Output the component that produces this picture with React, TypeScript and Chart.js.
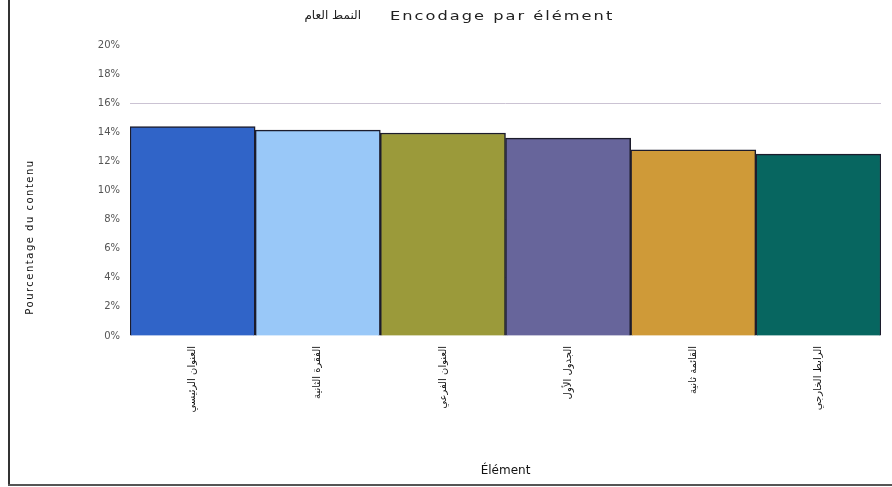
import React, { useEffect, useRef } from "react";
import { Chart, registerables } from "chart.js";

Chart.register(...registerables);

const categories = [
  "العنوان الرئيسي",
  "الفقرة الثانية",
  "العنوان الفرعي",
  "الجدول الأول",
  "القائمة ثانية",
  "الرابط الخارجي",
];
const values = [14.4, 14.15, 13.95, 13.6, 12.8, 12.5];
const barColors = ["#3064c8", "#99c8f8", "#9b9a3a", "#67659b", "#cf9a38", "#076660"];
const titleArabic = "النمط العام";
const titleText = "Encodage par élément";
const yTitle = "Pourcentage du contenu";
const xTitle = "Élément";

const textPlugin = {
  id: "customTexts",
  afterDraw(chart: any) {
    const ctx = chart.ctx as CanvasRenderingContext2D;
    ctx.save();
    ctx.fillStyle = "#222";
    ctx.textBaseline = "middle";
    // title
    ctx.save();
    ctx.translate(390, 17);
    ctx.scale(1.35, 1);
    ctx.font = "12px 'DejaVu Sans'";
    (ctx as any).letterSpacing = "1.5px";
    ctx.textAlign = "left";
    ctx.fillText(titleText, 0, 0);
    ctx.restore();
    ctx.font = "12px 'DejaVu Sans'";
    ctx.textAlign = "right";
    ctx.fillText(titleArabic, 361, 16);
    // y title
    ctx.translate(30, 237);
    ctx.rotate(-Math.PI / 2);
    ctx.textAlign = "center";
    ctx.font = "10px 'DejaVu Sans'";
    (ctx as any).letterSpacing = "1.5px";
    ctx.fillStyle = "#111";
    ctx.fillText(yTitle, 0, 0);
    ctx.restore();
  },
};

export default function App() {
  const ref = useRef<HTMLCanvasElement | null>(null);
  useEffect(() => {
    if (!ref.current) return;
    const chart = new Chart(ref.current, {
      type: "bar",
      data: {
        labels: categories,
        datasets: [
          {
            data: values,
            backgroundColor: barColors,
            borderColor: "#1c1c2c",
            borderWidth: 1.5,
            categoryPercentage: 1,
            barPercentage: 1,
          },
        ],
      },
      plugins: [textPlugin],
      options: {
        responsive: false,
        animation: false,
        layout: { padding: { left: 12, right: 11, top: 45, bottom: 3 } },
        plugins: {
          legend: { display: false },
          tooltip: { enabled: false },
          title: { display: false },
        },
        scales: {
          x: {
            grid: { display: false },
            border: { display: false },
            ticks: {
              color: "#111",
              font: { family: "DejaVu Sans", size: 10 },
              minRotation: 90,
              maxRotation: 90,
              padding: 2,
            },
            title: {
              display: true,
              text: xTitle,
              color: "#111",
              font: { family: "DejaVu Sans", size: 12 },
              padding: { top: 4, bottom: 6 },
            },
            afterFit: (s: any) => {
              s.height = 148;
            },
          },
          y: {
            min: 0,
            max: 20,
            border: { display: false },
            grid: {
              drawTicks: false,
              color: (ctx: any) => {
                const v = ctx.tick ? ctx.tick.value : 0;
                return v % 4 === 0 && v !== 0 && v !== 20 ? "#cbc3d3" : "rgba(0,0,0,0)";
              },
            },
            ticks: {
              stepSize: 2,
              color: "#555",
              font: { family: "DejaVu Sans", size: 10 },
              padding: 10,
              callback: (v: any) => v + "%",
            },
            afterFit: (s: any) => {
              s.width = 118;
            },
          },
        },
      },
    });
    return () => chart.destroy();
  }, []);
  return (
    <div style={{ position: "fixed", left: 0, top: 0, width: 892, height: 487, background: "#fff" }}>
      <canvas ref={ref} width={892} height={487} style={{ display: "block" }} />
      <div style={{ position: "absolute", left: 8, top: 0, width: 2, height: 486, background: "#333" }} />
      <div style={{ position: "absolute", left: 8, top: 484, width: 884, height: 2, background: "#555" }} />
    </div>
  );
}
